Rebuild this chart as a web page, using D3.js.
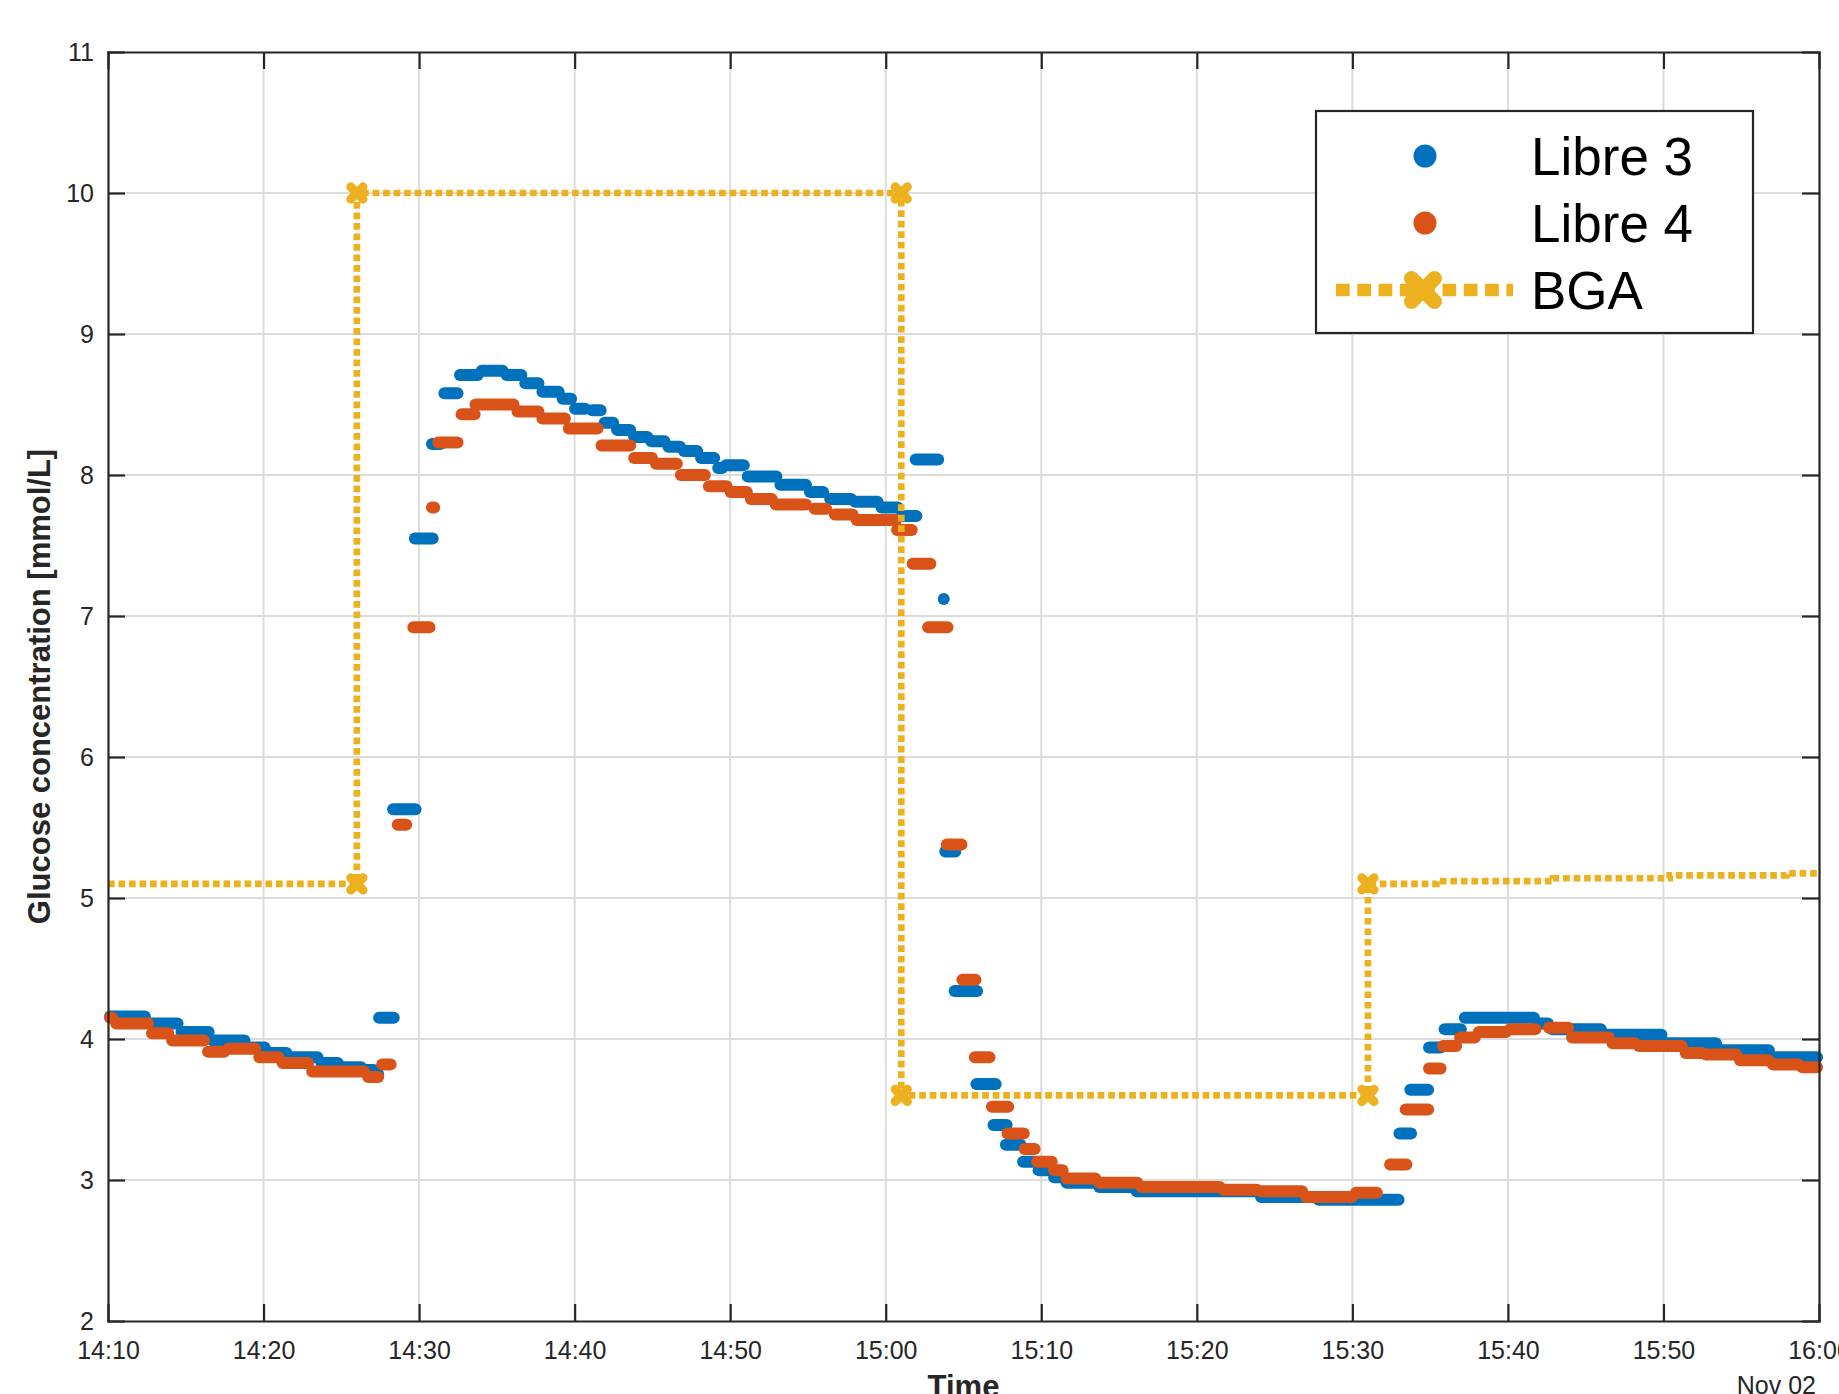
<!DOCTYPE html>
<html>
<head>
<meta charset="utf-8">
<script src="https://cdn.jsdelivr.net/npm/d3@7"></script>
<style>
  html, body { margin: 0; padding: 0; background: #fff; }
  svg { display: block; font-family: "Liberation Sans", Arial, Helvetica, sans-serif; }
</style>
</head>
<body>
<svg id="chart" width="1839" height="1394"></svg>
<script>
// sensor readings: [from minute, to minute, mmol/L], minutes counted from 14:10
const libre3 = [
  [0, 2.5, 4.16], [2.7, 4.6, 4.11], [4.6, 6.6, 4.05], [6.6, 8.9, 3.99], [8.9, 10.2, 3.94],
  [10.2, 11.6, 3.90], [11.6, 13.6, 3.87], [13.6, 14.9, 3.83], [14.9, 16.4, 3.80], [16.4, 17.2, 3.78],
  [17.0, 17.5, 3.75], [17.3, 18.5, 4.15], [18.2, 19.9, 5.63], [19.6, 21.0, 7.55], [20.7, 21.5, 8.22],
  [21.5, 22.6, 8.58], [22.5, 23.9, 8.71], [23.9, 25.5, 8.74], [25.5, 26.7, 8.71], [26.7, 27.8, 8.65],
  [27.8, 29.1, 8.59], [29.1, 29.9, 8.54], [29.9, 30.8, 8.47], [31.0, 31.8, 8.46], [31.8, 32.6, 8.37],
  [32.6, 33.7, 8.32], [33.7, 34.8, 8.27], [34.8, 35.9, 8.24], [35.9, 36.9, 8.20], [36.9, 38.0, 8.17],
  [38.0, 39.1, 8.12], [39.1, 39.6, 8.05], [39.6, 41.0, 8.07], [41.0, 43.1, 7.99], [43.1, 45.0, 7.93],
  [45.0, 46.1, 7.88], [46.3, 47.9, 7.83], [47.9, 49.6, 7.81], [49.6, 50.9, 7.77], [50.9, 52.1, 7.71],
  [51.8, 53.5, 8.11], [53.6, 53.6, 7.12], [53.7, 54.6, 5.33], [54.3, 56.0, 4.34], [55.7, 57.2, 3.68],
  [56.8, 57.9, 3.39], [57.6, 58.8, 3.25], [58.7, 59.7, 3.13], [59.7, 60.9, 3.07], [60.7, 61.5, 3.02],
  [61.5, 63.6, 2.98], [63.6, 66.0, 2.95], [66.0, 74.0, 2.92], [74.0, 77.7, 2.88], [77.7, 83.1, 2.86],
  [82.9, 83.9, 3.33], [83.6, 85.0, 3.64], [84.8, 85.8, 3.94], [85.8, 87.1, 4.07], [87.1, 91.8, 4.15],
  [91.8, 92.7, 4.11], [92.7, 96.1, 4.07], [96.1, 100, 4.03], [100, 103.5, 3.97], [103.5, 106.9, 3.92],
  [106.9, 110, 3.87]
];
const libre4 = [
  [0, 0.4, 4.15], [0.4, 2.7, 4.11], [2.7, 4.0, 4.04], [4.0, 6.3, 3.99], [6.3, 7.6, 3.91],
  [7.6, 9.6, 3.93], [9.6, 11.1, 3.87], [11.1, 13.0, 3.83], [13.0, 16.6, 3.77], [16.6, 17.5, 3.73],
  [17.5, 18.3, 3.82], [18.5, 19.3, 5.52], [19.5, 20.8, 6.92], [20.7, 21.1, 7.77], [21.1, 22.6, 8.23],
  [22.6, 23.7, 8.43], [23.5, 26.2, 8.50], [26.2, 27.8, 8.45], [27.8, 29.5, 8.40], [29.5, 31.6, 8.33],
  [31.6, 33.7, 8.21], [33.7, 35.1, 8.12], [35.1, 36.7, 8.08], [36.7, 38.5, 8.00], [38.5, 39.9, 7.92],
  [39.9, 41.2, 7.88], [41.2, 42.8, 7.83], [42.8, 45.0, 7.79], [45.3, 46.3, 7.76], [46.6, 48.0, 7.72],
  [48.0, 50.8, 7.68], [50.6, 51.8, 7.61], [51.6, 53.0, 7.37], [52.6, 54.1, 6.92], [53.8, 55.0, 5.38],
  [54.8, 55.9, 4.42], [55.6, 56.8, 3.87], [56.7, 58.0, 3.52], [57.7, 59.0, 3.33], [58.8, 59.7, 3.22],
  [59.6, 60.8, 3.13], [60.7, 61.5, 3.07], [61.5, 63.6, 3.01], [63.6, 66.3, 2.98], [66.3, 71.6, 2.95],
  [71.6, 74.0, 2.93], [74.0, 76.9, 2.92], [76.9, 80.1, 2.88], [80.1, 81.7, 2.91], [82.3, 83.6, 3.11],
  [83.3, 85.0, 3.50], [84.8, 85.8, 3.79], [85.7, 86.8, 3.95], [86.8, 88.0, 4.01], [88.0, 90.0, 4.05],
  [90.0, 91.9, 4.07], [92.5, 94.0, 4.08], [94.0, 96.6, 4.01], [96.6, 98.3, 3.97], [98.3, 101.3, 3.95],
  [101.3, 102.6, 3.90], [102.6, 104.8, 3.89], [104.8, 106.9, 3.85], [106.9, 108.8, 3.82], [108.8, 110, 3.80]
];
// blood gas analysis, step values
const bgaMinutes = [0, 16, 51, 81, 85.4, 92.9, 100.4, 107.9, 110];
const bgaValues = [5.1, 10, 3.6, 5.1, 5.12, 5.14, 5.16, 5.175, 5.175];
const bgaMarked = [1, 2, 3]; // steps drawn with a marker at both ends

const xTickMinutes = [0, 10, 20, 30, 40, 50, 60, 70, 80, 90, 100, 110];
const yTicks = [2, 3, 4, 5, 6, 7, 8, 9, 10, 11];
const seriesNames = ["Libre 3", "Libre 4", "BGA"];
const seriesColors = ["#0072BD", "#D95319", "#EDB120"];

const ink = "#262626";
const plotL = 108, plotR = 1819, plotT = 52, plotB = 1321;
const start = new Date(2023, 10, 2, 14, 10);
const toTime = m => d3.timeSecond.offset(start, Math.round(m * 60));

const svg = d3.select("#chart");

const x = d3.scaleTime().domain([toTime(0), toTime(110)]).range([plotL, plotR]);
const y = d3.scaleLinear().domain([2, 11]).range([plotB, plotT]);

// grid
const grid = svg.append("g").attr("stroke", "#dcdcdc").attr("stroke-width", 2);
grid.selectAll(".gx").data(xTickMinutes.slice(1, -1)).join("line")
  .attr("x1", d => x(toTime(d))).attr("x2", d => x(toTime(d)))
  .attr("y1", plotT).attr("y2", plotB);
grid.selectAll(".gy").data(yTicks.slice(1, -1)).join("line")
  .attr("x1", plotL).attr("x2", plotR)
  .attr("y1", d => y(d)).attr("y2", d => y(d));

// sensor readings as runs of dots
const dotR = 6;
function drawRuns(runs, color) {
  svg.append("g").selectAll("line").data(runs).join("line")
    .attr("x1", d => x(toTime(d[0])) + 2)
    .attr("x2", d => Math.max(x(toTime(d[1])) - 2, x(toTime(d[0])) + 2.01))
    .attr("y1", d => y(d[2])).attr("y2", d => y(d[2]))
    .attr("stroke", color).attr("stroke-width", dotR * 2)
    .attr("stroke-linecap", "round");
}
drawRuns(libre3, seriesColors[0]);
drawRuns(libre4, seriesColors[1]);

// BGA stairs
svg.append("clipPath").attr("id", "plotArea").append("rect")
  .attr("x", plotL).attr("y", plotT).attr("width", plotR - plotL).attr("height", plotB - plotT);

const bga = bgaMinutes.map((m, i) => [m, bgaValues[i]]);
svg.append("path")
  .datum(bga)
  .attr("clip-path", "url(#plotArea)")
  .attr("d", d3.line().x(d => x(toTime(d[0]))).y(d => y(d[1])).curve(d3.curveStepAfter))
  .attr("fill", "none")
  .attr("stroke", seriesColors[2])
  .attr("stroke-width", 6.7)
  .attr("stroke-dasharray", "6.7 3.8");

const bgaMarkers = [];
bgaMarked.forEach(i => {
  bgaMarkers.push([bgaMinutes[i], bgaValues[i - 1]]);
  bgaMarkers.push([bgaMinutes[i], bgaValues[i]]);
});
svg.append("g").selectAll("path").data(bgaMarkers).join("path")
  .attr("transform", d => `translate(${x(toTime(d[0]))},${y(d[1])})`)
  .attr("d", d3.symbol().type(d3.symbolTimes).size(100))
  .attr("fill", "none")
  .attr("stroke", seriesColors[2])
  .attr("stroke-width", 9)
  .attr("stroke-linecap", "round");

// axes
function styleAxis(g) {
  g.selectAll(".domain").attr("stroke", ink).attr("stroke-width", 2.2).attr("stroke-linecap", "square");
  g.selectAll(".tick line").attr("stroke", ink).attr("stroke-width", 2.2);
  g.selectAll(".tick text").attr("fill", ink).attr("font-size", 25);
  g.attr("font-family", null);
}
svg.append("g").attr("transform", `translate(0,${plotB})`)
  .call(d3.axisBottom(x).tickValues(xTickMinutes.map(toTime)).tickFormat(d3.timeFormat("%H:%M"))
    .tickSizeInner(-17).tickSizeOuter(0).tickPadding(20))
  .call(styleAxis);
svg.append("g").attr("transform", `translate(0,${plotT})`)
  .call(d3.axisTop(x).tickValues(xTickMinutes.map(toTime)).tickFormat(() => "")
    .tickSizeInner(-17).tickSizeOuter(0))
  .call(styleAxis);
svg.append("g").attr("transform", `translate(${plotL},0)`)
  .call(d3.axisLeft(y).tickValues(yTicks).tickSizeInner(-17).tickSizeOuter(0).tickPadding(14))
  .call(styleAxis);
svg.append("g").attr("transform", `translate(${plotR},0)`)
  .call(d3.axisRight(y).tickValues(yTicks).tickFormat(() => "").tickSizeInner(-17).tickSizeOuter(0))
  .call(styleAxis);

// axis labels
svg.append("text")
  .attr("transform", `translate(50,${(plotT + plotB) / 2}) rotate(-90)`)
  .attr("text-anchor", "middle")
  .attr("font-size", 31).attr("font-weight", "bold").attr("fill", ink)
  .text("Glucose concentration [mmol/L]");
svg.append("text")
  .attr("x", (plotL + plotR) / 2).attr("y", 1397)
  .attr("text-anchor", "middle")
  .attr("font-size", 31).attr("font-weight", "bold").attr("fill", ink)
  .text("Time");
svg.append("text")
  .attr("x", 1816).attr("y", 1394)
  .attr("text-anchor", "end")
  .attr("font-size", 25).attr("fill", ink)
  .text(d3.timeFormat("%b %d")(start));

// legend
const legend = svg.append("g");
legend.append("rect")
  .attr("x", 1316).attr("y", 111).attr("width", 437).attr("height", 222)
  .attr("fill", "#fff").attr("stroke", ink).attr("stroke-width", 2.2);
const rowY = [156, 223, 290];
legend.selectAll("circle").data([0, 1]).join("circle")
  .attr("cx", 1425).attr("cy", i => rowY[i]).attr("r", 11.5)
  .attr("fill", i => seriesColors[i]);
legend.append("line")
  .attr("x1", 1336).attr("x2", 1513).attr("y1", rowY[2]).attr("y2", rowY[2])
  .attr("stroke", seriesColors[2]).attr("stroke-width", 12.3)
  .attr("stroke-dasharray", "13.7 7.6");
legend.append("path")
  .attr("transform", `translate(1423,${rowY[2]})`)
  .attr("d", d3.symbol().type(d3.symbolTimes).size(347))
  .attr("fill", "none").attr("stroke", seriesColors[2])
  .attr("stroke-width", 15).attr("stroke-linecap", "round");
legend.selectAll("text").data(seriesNames).join("text")
  .attr("x", 1531).attr("y", (d, i) => rowY[i] + 19)
  .attr("font-size", 53).attr("fill", "#000")
  .text(d => d);
</script>
</body>
</html>
